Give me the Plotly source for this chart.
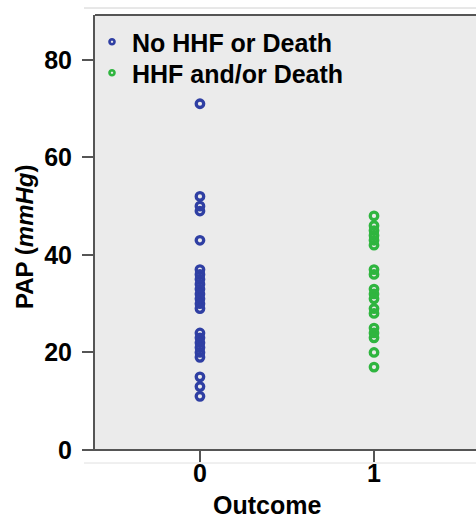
import plotly.graph_objects as go

outcome0_pap = [71, 52, 50, 49, 43, 37, 36, 35, 34, 33, 32, 31, 30, 29,
                24, 23, 22, 21, 20, 19, 15, 13, 11]
outcome1_pap = [48, 46, 45, 44, 43, 42, 37, 36, 33, 32, 31, 29, 28,
                25, 24, 23, 20, 17]
series_names = ["No HHF or Death", "HHF and/or Death"]
x_ticks = [0, 1]
y_ticks = [0, 20, 40, 60, 80]

blue = "#2f3fa3"
green = "#2fb53f"
font = "Liberation Sans, Arial, sans-serif"

W, H = 476, 520
L, T, R, B = 95, 15, 0, 70
pw = W - L - R
ph = H - T - B


def px(xp):
    return (xp - L) / pw


def py(yp):
    return 1 - (yp - T) / ph


fig = go.Figure()
legend_ids = ["legend", "legend2"]
for vals, xv, col, name, lg in [(outcome0_pap, x_ticks[0], blue, series_names[0], legend_ids[0]),
                                (outcome1_pap, x_ticks[1], green, series_names[1], legend_ids[1])]:
    fig.add_trace(go.Scatter(
        x=[xv] * len(vals), y=vals, mode="markers", name=name, showlegend=False,
        marker=dict(symbol="circle-open", size=7.5, color=col, line=dict(width=3.3, color=col)),
    ))
    # legend entry with smaller marker as in the reference
    fig.add_trace(go.Scatter(
        x=[None], y=[None], mode="markers", name=name, showlegend=True, legend=lg,
        marker=dict(symbol="circle-open", size=5, color=col, line=dict(width=2.6, color=col)),
    ))

legend_style = dict(xanchor="left", yanchor="top", bgcolor="rgba(0,0,0,0)",
                    font=dict(size=25, family=font, weight="bold", color="black"),
                    itemwidth=30, tracegroupgap=0)

fig.update_layout(
    width=W, height=H,
    margin=dict(l=L, r=R, t=T, b=B),
    paper_bgcolor="white",
    plot_bgcolor="#ebebeb",
    font=dict(family=font, size=25, color="black"),
    showlegend=True,
    legend=dict(x=px(92), y=py(19), **legend_style),
    legend2=dict(x=px(92), y=py(50), **legend_style),
    xaxis=dict(range=[-0.603, 1.586], tickvals=x_ticks, ticktext=[str(v) for v in x_ticks],
               showgrid=False, zeroline=False, showline=False,
               ticks="outside", ticklen=11, tickwidth=2, tickcolor="#555",
               ticklabelstandoff=-10,
               tickfont=dict(size=25, family=font, weight="bold", color="black")),
    yaxis=dict(range=[0, 89.2], tickvals=y_ticks, ticktext=[str(v) for v in y_ticks],
               showgrid=False, zeroline=False, showline=True, linecolor="#555", linewidth=2,
               ticks="outside", ticklen=11, tickwidth=2, tickcolor="#555",
               ticklabelstandoff=5,
               tickfont=dict(size=25, family=font, weight="bold", color="black")),
    annotations=[
        dict(text="<b>Outcome</b>", xref="paper", yref="paper", x=px(267), y=py(505),
             xanchor="center", yanchor="middle", showarrow=False,
             font=dict(size=25, family=font, color="black")),
        dict(text="<b>PAP (<i>mmHg</i>)</b>", xref="paper", yref="paper", x=px(24), y=py(237),
             xanchor="center", yanchor="middle", showarrow=False, textangle=-90,
             font=dict(size=24, family=font, color="black")),
    ],
    shapes=[
        dict(type="line", xref="paper", yref="paper", x0=px(84), x1=px(480), y0=py(8), y1=py(8),
             line=dict(color="#d0d0d0", width=1)),
        dict(type="line", xref="paper", yref="paper", x0=px(84), x1=px(480), y0=py(463), y1=py(463),
             line=dict(color="#e0e0e0", width=1)),
        dict(type="line", xref="paper", yref="paper", x0=px(95), x1=px(480), y0=py(15), y1=py(15),
             line=dict(color="#555", width=2)),
        dict(type="line", xref="paper", yref="paper", x0=px(84), x1=px(480), y0=py(450), y1=py(450),
             line=dict(color="#555", width=2)),
    ],
)

fig.write_html("out.html")
